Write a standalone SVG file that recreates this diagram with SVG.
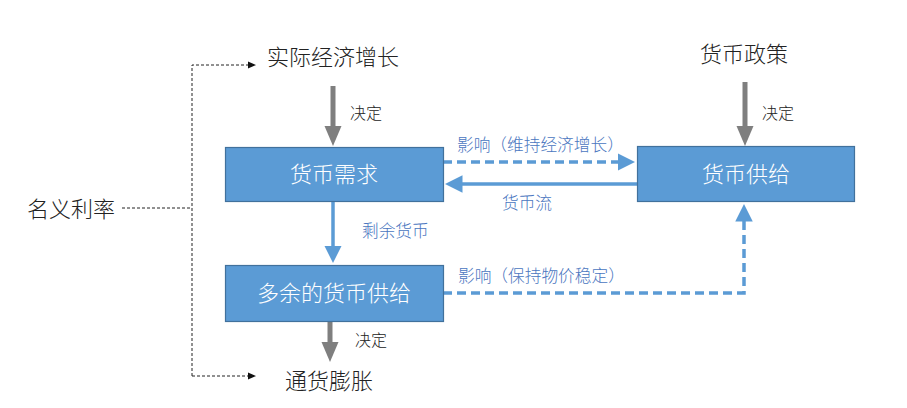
<svg xmlns="http://www.w3.org/2000/svg" width="907" height="408" viewBox="0 0 907 408">
<defs>
<style>
.t{font-family:"Noto Sans CJK SC","Liberation Sans",sans-serif;font-weight:300;}
.big{font-size:22px;fill:#222;}
.box{fill:#5B9BD5;stroke:#41719C;stroke-width:1.2;}
.bt{font-size:22px;fill:#fff;}
.lbl{font-size:16.7px;fill:#4A76C0;}
.dec{font-size:16px;fill:#222;}
.gray{stroke:#7F7F7F;stroke-width:5;fill:none;}
.blue{stroke:#5B9BD5;stroke-width:3.5;fill:none;}
.bdash{stroke:#5B9BD5;stroke-width:3.5;fill:none;stroke-dasharray:9 5;}
.kdash{stroke:#222;stroke-width:1;fill:none;stroke-dasharray:3 2;}
</style>
<marker id="ag" markerWidth="4" markerHeight="4" refX="2" refY="2" orient="auto" markerUnits="strokeWidth"><path d="M0,0.3 L4,2 L0,3.7z" fill="#7F7F7F"/></marker>
<marker id="ab" markerWidth="5" markerHeight="5" refX="3" refY="2.5" orient="auto" markerUnits="strokeWidth"><path d="M0,0 L5,2.5 L0,5z" fill="#5B9BD5"/></marker>
<marker id="ak" markerWidth="8" markerHeight="8" refX="6" refY="4" orient="auto" markerUnits="userSpaceOnUse"><path d="M0,0.5 L8,4 L0,7.5z" fill="#111"/></marker>
</defs>
<g id="connectors">
<path class="kdash" d="M122,208 L192,208"/>
<path class="kdash" d="M192,376 L192,65 L254,65" marker-end="url(#ak)"/>
<path class="kdash" d="M192,376 L254,376" marker-end="url(#ak)"/>
<path class="gray" d="M333,86 L333,136" marker-end="url(#ag)"/>
<path class="gray" d="M745,82 L745,136" marker-end="url(#ag)"/>
<path class="gray" d="M330,321 L330,352" marker-end="url(#ag)"/>
<path class="blue" d="M333,201 L333,256" marker-end="url(#ab)"/>
<path class="bdash" d="M443,162 L628,162" marker-end="url(#ab)"/>
<path class="blue" d="M637,184 L452,184" marker-end="url(#ab)"/>
<path class="bdash" d="M443,293 L744,293 L744,211" marker-end="url(#ab)"/>
<text class="t dec" x="350" y="119">决定</text>
<text class="t dec" x="762" y="119">决定</text>
<text class="t dec" x="355" y="346">决定</text>
<text class="t lbl" x="362" y="237">剩余货币</text>
<text class="t lbl" x="457" y="151">影响（维持经济增长）</text>
<text class="t lbl" x="502" y="209">货币流</text>
<text class="t lbl" x="458" y="282">影响（保持物价稳定）</text>
</g>
<g id="n-real"><text class="t big" x="267" y="65">实际经济增长</text></g>
<g id="n-policy"><text class="t big" x="700" y="62">货币政策</text></g>
<g id="n-nominal"><text class="t big" x="27" y="217">名义利率</text></g>
<g id="n-inflation"><text class="t big" x="285" y="389">通货膨胀</text></g>
<g id="n-demand"><rect class="box" x="225.5" y="147.5" width="218" height="54"/><text class="t bt" x="334" y="182" text-anchor="middle">货币需求</text></g>
<g id="n-supply"><rect class="box" x="637.5" y="146.5" width="217" height="55"/><text class="t bt" x="746" y="182" text-anchor="middle">货币供给</text></g>
<g id="n-excess"><rect class="box" x="225.5" y="265.5" width="218" height="56"/><text class="t bt" x="334" y="301" text-anchor="middle">多余的货币供给</text></g>
</svg>
